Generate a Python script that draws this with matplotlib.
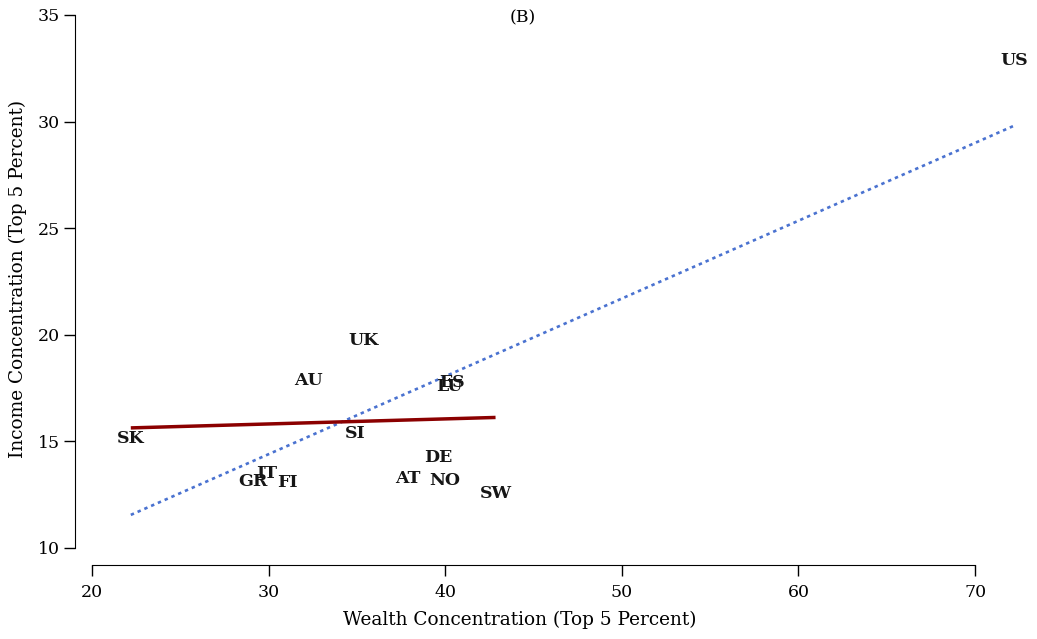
import matplotlib
matplotlib.use("Agg")
import matplotlib.pyplot as plt
import numpy as np

# country codes and their (wealth, income) top 5 percent shares
countries = ['US', 'UK', 'AU', 'ES', 'LU', 'SI', 'SK', 'DE', 'AT', 'NO', 'SW', 'IT', 'GR', 'FI']
wealth = [72.2, 35.35, 32.25, 40.4, 40.25, 34.9, 22.2, 39.6, 37.9, 40.0, 42.85, 29.9, 29.1, 31.05]
income = [32.85, 19.75, 17.85, 17.75, 17.58, 15.35, 15.15, 14.25, 13.25, 13.15, 12.55, 13.5, 13.1, 13.05]

# fitted lines (all countries / without the US)
fit_all_x = [22.2, 72.2]
fit_all_y = [11.55, 29.8]
fit_nous_x = [22.2, 42.85]
fit_nous_y = [15.63, 16.12]

plt.rcParams['font.family'] = ['DejaVu Serif']

my_dpi = 100
fig = plt.figure(figsize=(1037 / my_dpi, 639 / my_dpi), dpi=my_dpi)
ax = fig.add_axes([75 / 1037, 74 / 639, 955 / 1037, 555 / 639])

ax.plot(fit_all_x, fit_all_y, color='#4a72d0', linestyle=(0, (1.3, 1.5)), linewidth=1.9)
ax.plot(fit_nous_x, fit_nous_y, color='#8b0000', linewidth=2.5, solid_capstyle='butt')

for c, x, y in zip(countries, wealth, income):
    ax.text(x, y, c, ha='center', va='center', fontsize=12.5, fontweight='bold', color='#161616')

ax.set_xlim(19.04, 73.11)
ax.set_ylim(9.2, 35.23)

for side in ['top', 'right']:
    ax.spines[side].set_visible(False)
ax.spines['left'].set_bounds(10, 35)
ax.spines['bottom'].set_bounds(20, 70)

ax.set_xticks([20, 30, 40, 50, 60, 70])
ax.set_yticks([10, 15, 20, 25, 30, 35])
ax.tick_params(axis='both', direction='out', length=8, width=1, labelsize=12.5, pad=3)
ax.tick_params(axis='x', pad=6)

ax.set_xlabel('Wealth Concentration (Top 5 Percent)', fontsize=13.3)
ax.xaxis.set_label_coords((520 - 75) / 955, -0.083)
ax.set_ylabel('Income Concentration (Top 5 Percent)', fontsize=13.3)
ax.yaxis.set_label_coords((27 - 75) / 955, (639 - 279 - 74) / 555)

fig.text(523 / 1037, 1 - 18 / 639, '(B)', ha='center', va='center', fontsize=12.5)

fig.savefig('out.png', dpi=my_dpi)
